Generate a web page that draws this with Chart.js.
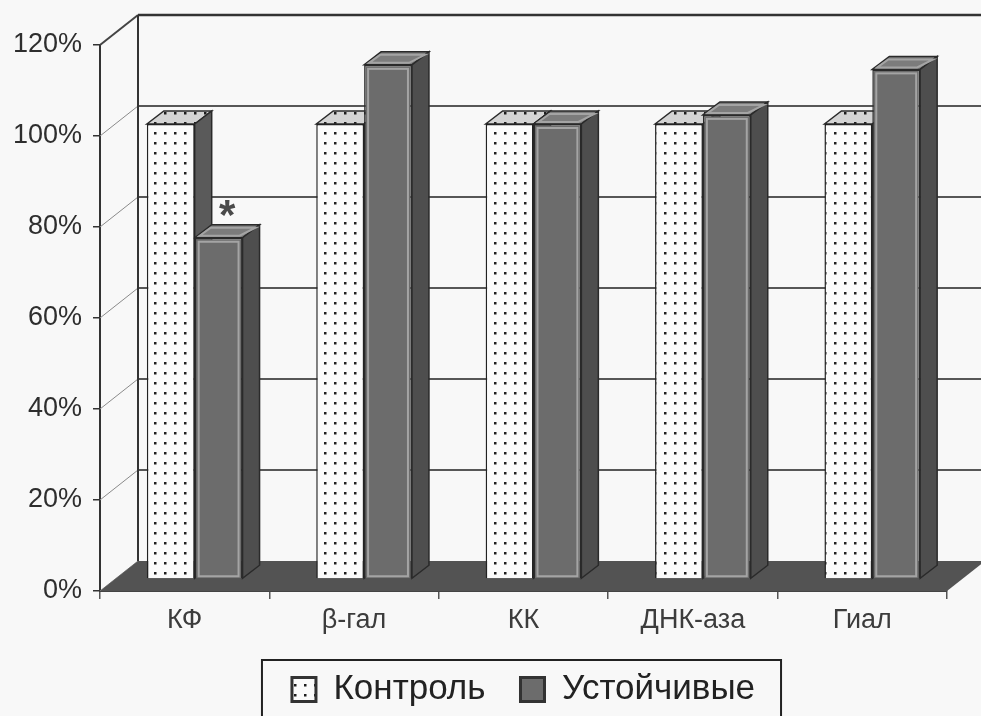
<!DOCTYPE html>
<html>
<head>
<meta charset="utf-8">
<script src="https://cdn.jsdelivr.net/npm/chart.js@4.4.1/dist/chart.umd.min.js"></script>
<style>
  html, body { margin: 0; padding: 0; background: #f8f8f8; }
  #wrap { width: 981px; height: 716px; }
</style>
</head>
<body>
<div id="wrap"><canvas id="chart" width="981" height="716"></canvas></div>
<script>
'use strict';

const categories = ['КФ', 'β-гал', 'КК', 'ДНК-аза', 'Гиал'];
const seriesNames = ['Контроль', 'Устойчивые'];
const control = [100, 100, 100, 100, 100];
const resistant = [75, 113, 100, 102, 112];
const marks = ['*', '', '', '', ''];
const yTicks = [0, 20, 40, 60, 80, 100, 120];

// oblique offsets of the fake 3d scene
const WALL = {dx: 38, dy: -30};
const BAR = {dx: 10, dy: -12};
const DEPTH = {dx: 17, dy: -13};

function dots(bg) {
  const c = document.createElement('canvas');
  c.width = 10; c.height = 10;
  const g = c.getContext('2d');
  g.fillStyle = bg;
  g.fillRect(0, 0, 10, 10);
  g.fillStyle = '#1e1e1e';
  g.fillRect(4, 4, 2.5, 2.5);
  return g.createPattern(c, 'repeat');
}

const faces = [
  {top: dots('#d4d4d4'), side: '#5a5a5a', inner: null},
  {top: '#7c7c7c', side: '#4e4e4e', inner: '#a4a4a4'}
];

function poly(ctx, pts, fill) {
  ctx.beginPath();
  ctx.moveTo(pts[0][0], pts[0][1]);
  for (let i = 1; i < pts.length; i++)
    ctx.lineTo(pts[i][0], pts[i][1]);
  ctx.closePath();
  ctx.fillStyle = fill;
  ctx.fill();
  ctx.stroke();
}

// top and side faces of every bar in one dataset (ctx already translated)
function drawFaces(ctx, meta, f) {
  ctx.strokeStyle = '#2a2a2a';
  ctx.lineWidth = 1.5;
  for (const el of meta.data) {
    const l = el.x - el.width / 2, r = el.x + el.width / 2;
    const t = el.y, b = el.base;
    poly(ctx, [[l, t], [l + DEPTH.dx, t + DEPTH.dy], [r + DEPTH.dx, t + DEPTH.dy], [r, t]], f.top);
    poly(ctx, [[r, t], [r + DEPTH.dx, t + DEPTH.dy], [r + DEPTH.dx, b + DEPTH.dy], [r, b]], f.side);
    if (f.inner) {
      ctx.save();
      ctx.strokeStyle = f.inner;
      ctx.lineWidth = 2;
      ctx.strokeRect(l + 4, t + 4, r - l - 8, b - t - 6);
      ctx.beginPath();
      ctx.moveTo(l + 5, t - 2);
      ctx.lineTo(l + DEPTH.dx - 1, t + DEPTH.dy + 3);
      ctx.lineTo(r + DEPTH.dx - 4, t + DEPTH.dy + 3);
      ctx.lineTo(r - 3, t - 2);
      ctx.closePath();
      ctx.stroke();
      ctx.restore();
    }
  }
}

const scene3d = {
  id: 'scene3d',
  beforeDatasetsDraw(chart) {
    const {ctx, chartArea: a} = chart;
    const y = chart.scales.y;
    const y0 = y.getPixelForValue(0);
    ctx.save();
    for (const v of yTicks) {
      const py = y.getPixelForValue(v);
      const top = v === yTicks[yTicks.length - 1];
      if (v > 0) {
        ctx.strokeStyle = top ? '#333' : '#222';
        ctx.lineWidth = top ? 2.5 : 1.5;
        ctx.beginPath();
        ctx.moveTo(a.left + WALL.dx, py + WALL.dy);
        ctx.lineTo(chart.width, py + WALL.dy);
        ctx.stroke();
      }
      ctx.strokeStyle = top ? '#444' : '#8a8a8a';
      ctx.lineWidth = top ? 2 : 1;
      ctx.beginPath();
      ctx.moveTo(a.left, py);
      ctx.lineTo(a.left + WALL.dx, py + WALL.dy);
      ctx.stroke();
    }
    // left edge of the back wall
    ctx.strokeStyle = '#333';
    ctx.lineWidth = 2;
    ctx.beginPath();
    ctx.moveTo(a.left + WALL.dx, y.getPixelForValue(120) + WALL.dy);
    ctx.lineTo(a.left + WALL.dx, y0 + WALL.dy);
    ctx.stroke();
    // floor
    ctx.fillStyle = '#535353';
    ctx.beginPath();
    ctx.moveTo(a.left, y0);
    ctx.lineTo(a.right, y0);
    ctx.lineTo(a.right + WALL.dx, y0 + WALL.dy);
    ctx.lineTo(a.left + WALL.dx, y0 + WALL.dy);
    ctx.closePath();
    ctx.fill();
    // faces of the control bars go under the front of the second series
    ctx.translate(BAR.dx, BAR.dy);
    drawFaces(ctx, chart.getDatasetMeta(0), faces[0]);
    ctx.restore();
  },
  beforeDatasetDraw(chart) {
    chart.ctx.save();
    chart.ctx.translate(BAR.dx, BAR.dy);
  },
  afterDatasetDraw(chart, args) {
    if (args.index > 0)
      drawFaces(chart.ctx, args.meta, faces[args.index]);
    chart.ctx.restore();
  },
  afterDatasetsDraw(chart) {
    const ctx = chart.ctx;
    const meta = chart.getDatasetMeta(1);
    ctx.save();
    ctx.fillStyle = '#4a4a4a';
    ctx.font = 'bold 42px "Liberation Sans", Arial, sans-serif';
    ctx.textAlign = 'center';
    ctx.textBaseline = 'alphabetic';
    marks.forEach((m, i) => {
      if (!m) return;
      const el = meta.data[i];
      ctx.fillText(m, el.x + BAR.dx + DEPTH.dx / 2, el.y + BAR.dy - 9);
    });
    ctx.restore();
  },
  afterDraw(chart) {
    const boxes = chart.legend.legendHitBoxes;
    if (!boxes || !boxes.length) return;
    const ctx = chart.ctx;
    const l = Math.min(...boxes.map(b => b.left)) - 30;
    const r = Math.max(...boxes.map(b => b.left + b.width)) + 26;
    const t = Math.min(...boxes.map(b => b.top)) - 12;
    ctx.save();
    ctx.strokeStyle = '#222';
    ctx.lineWidth = 2;
    ctx.beginPath();
    ctx.moveTo(l, chart.height + 5);
    ctx.lineTo(l, t);
    ctx.lineTo(r, t);
    ctx.lineTo(r, chart.height + 5);
    ctx.stroke();
    ctx.restore();
  }
};

const config = {
  type: 'bar',
  data: {
    labels: categories,
    datasets: [{
      label: seriesNames[0],
      data: control,
      backgroundColor: dots('#fbfbfb'),
      borderColor: '#222',
      borderWidth: 1.5
    }, {
      label: seriesNames[1],
      data: resistant,
      backgroundColor: '#6c6c6c',
      borderColor: '#2a2a2a',
      borderWidth: 1.5
    }]
  },
  options: {
    responsive: false,
    devicePixelRatio: 1,
    animation: false,
    events: [],
    layout: {padding: {left: 0, top: 45, right: 34, bottom: -1}},
    datasets: {
      bar: {categoryPercentage: 0.565, barPercentage: 1, clip: false}
    },
    scales: {
      x: {
        grid: {offset: true, drawOnChartArea: false, drawTicks: true, tickLength: 8, color: '#555', lineWidth: 1.5},
        border: {display: true, color: '#444', width: 2},
        ticks: {
          color: '#3c3c3c',
          padding: 8,
          font: {family: '"Liberation Sans", Arial, sans-serif', size: 27, lineHeight: 1}
        },
        afterFit: s => { s.height = 46; }
      },
      y: {
        min: 0,
        max: 120,
        afterBuildTicks: s => { s.ticks = yTicks.map(v => ({value: v})); },
        grid: {drawOnChartArea: false, drawTicks: true, tickLength: 7, color: '#333', lineWidth: 1.5},
        border: {display: true, color: '#333', width: 2},
        ticks: {
          color: '#2e2e2e',
          padding: 11,
          font: {family: '"Liberation Sans", Arial, sans-serif', size: 27},
          callback: v => v + '%'
        },
        afterFit: s => { s.width = 100; }
      }
    },
    plugins: {
      tooltip: {enabled: false},
      legend: {
        position: 'bottom',
        fullSize: false,
        labels: {
          color: '#222',
          boxWidth: 24,
          boxHeight: 24,
          padding: 35,
          font: {family: '"Liberation Sans", Arial, sans-serif', size: 35},
          generateLabels(chart) {
            const items = Chart.defaults.plugins.legend.labels.generateLabels(chart);
            items.forEach(it => { it.lineWidth = 3; it.strokeStyle = '#333'; });
            return items;
          }
        }
      }
    }
  },
  plugins: [scene3d]
};

const chart = new Chart(document.getElementById('chart').getContext('2d'), config);
</script>
</body>
</html>
